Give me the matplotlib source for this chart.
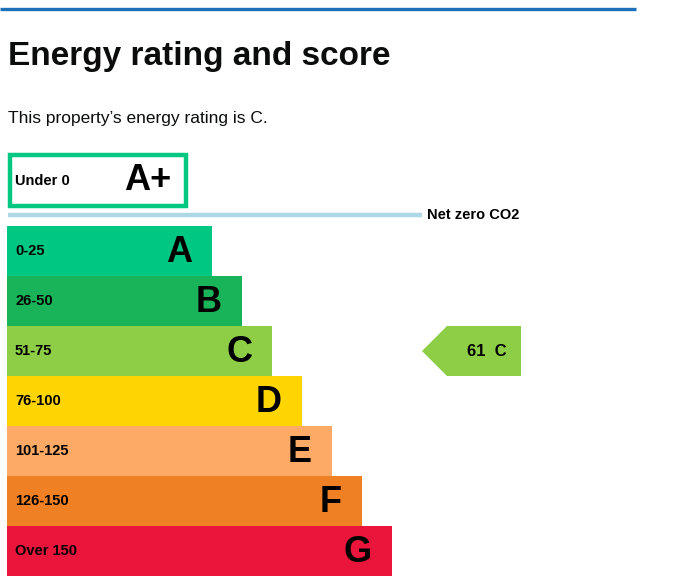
import matplotlib.pyplot as plt
from matplotlib.patches import Rectangle, Polygon

plt.rcParams['font.family'] = ['Liberation Sans', 'DejaVu Sans']

BANDS = ["A", "B", "C", "D", "E", "F", "G"]
RANGES = ["0-25", "26-50", "51-75", "76-100", "101-125", "126-150", "Over 150"]
BAR_ENDS = [212, 242, 272, 302, 332, 362, 392]
COLORS = ["#00c781", "#19b459", "#8dce46", "#ffd500", "#fcaa65", "#ef8023", "#e9153b"]
SCORE = 61
RATING = "C"

W, H = 677, 586
fig = plt.figure(figsize=(W / 100, H / 100), dpi=100)
ax = fig.add_axes([0, 0, 1, 1])
ax.set_xlim(0, W)
ax.set_ylim(H, 0)
ax.axis("off")

# header
ax.plot([0, 636], [9, 9], color="#1d70b8", lw=2.4, solid_capstyle="butt")
ax.text(8, 56, "Energy rating and score", fontsize=24, fontweight="bold", va="center", color="#0b0c0c")
ax.text(8, 119, "This property\u2019s energy rating is C.", fontsize=12.5, va="center", color="#0b0c0c")

# A+ box
ax.add_patch(Rectangle((10, 155), 176, 51, fill=False, edgecolor="#00c781", lw=3.2))
ax.text(15, 181, "Under 0", fontsize=10.5, fontweight="bold", va="center")
ax.text(148, 181, "A+", fontsize=26, fontweight="bold", va="center", ha="center")

# net zero line
ax.plot([8, 422], [215, 215], color="#add8e6", lw=3.2, solid_capstyle="butt")
ax.text(427, 215, "Net zero CO2", fontsize=10.5, fontweight="bold", va="center")

# bands
top = 226
for i, (b, r, e, c) in enumerate(zip(BANDS, RANGES, BAR_ENDS, COLORS)):
    y0 = top + i * 50
    ax.add_patch(Rectangle((7, y0), e - 7, 50, color=c, lw=0))
    ax.text(15, y0 + 25, r, fontsize=10.5, fontweight="bold", va="center")
    ax.text(e - 20, y0 + 27, b, fontsize=26, fontweight="bold", va="center", ha="right")

# current rating arrow
idx = BANDS.index(RATING)
y0 = top + idx * 50
ax.add_patch(Polygon([(422, y0 + 25), (447, y0), (521, y0), (521, y0 + 50), (447, y0 + 50)],
                     closed=True, color=COLORS[idx], lw=0))
ax.text(487, y0 + 25, f"{SCORE}  {RATING}", fontsize=12, fontweight="bold", va="center", ha="center")

fig.savefig("out.png", dpi=100)
